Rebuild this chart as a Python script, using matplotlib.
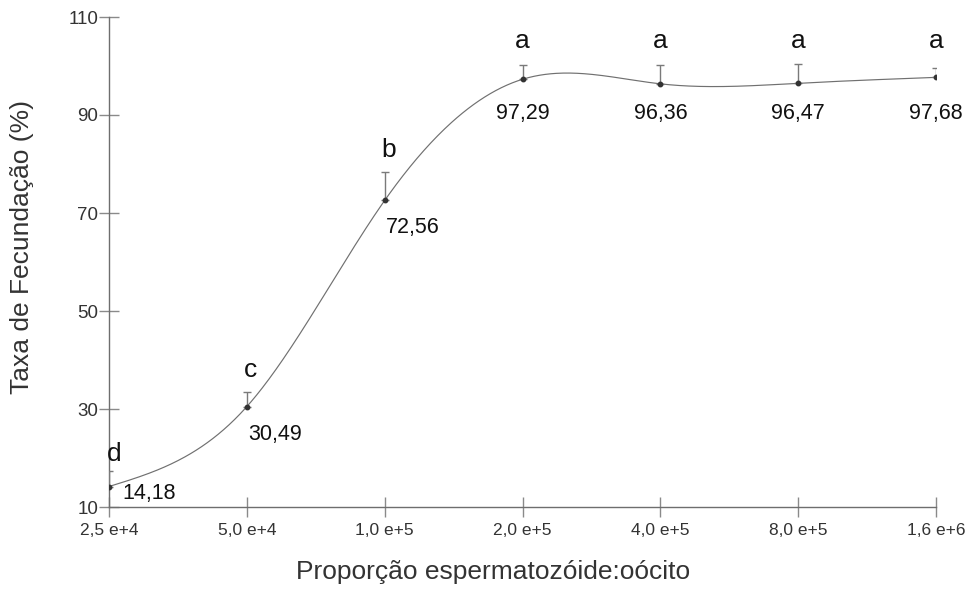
import numpy as np
import matplotlib
matplotlib.use("Agg")
import matplotlib.pyplot as plt

plt.rcParams['font.family'] = ['Liberation Sans', 'DejaVu Sans']

# Sperm:oocyte ratios tested (equally spaced on the axis)
ratio_labels = ["2,5 e+4", "5,0 e+4", "1,0 e+5", "2,0 e+5", "4,0 e+5", "8,0 e+5", "1,6 e+6"]
fert_rate = [14.18, 30.49, 72.56, 97.29, 96.36, 96.47, 97.68]
fert_err = [3.2, 3.0, 5.9, 2.9, 3.8, 3.9, 1.9]
groups = ["d", "c", "b", "a", "a", "a", "a"]
value_text = ["14,18", "30,49", "72,56", "97,29", "96,36", "96,47", "97,68"]
y_ticks = [10, 30, 50, 70, 90, 110]


def natural_cubic_spline(x, y, xs):
    """Evaluate a natural cubic spline through (x, y) at xs."""
    x = np.asarray(x, float)
    y = np.asarray(y, float)
    n = len(x)
    h = np.diff(x)
    A = np.zeros((n, n))
    b = np.zeros(n)
    A[0, 0] = A[-1, -1] = 1.0
    for i in range(1, n - 1):
        A[i, i - 1] = h[i - 1]
        A[i, i] = 2 * (h[i - 1] + h[i])
        A[i, i + 1] = h[i]
        b[i] = 3 * ((y[i + 1] - y[i]) / h[i] - (y[i] - y[i - 1]) / h[i - 1])
    c = np.linalg.solve(A, b)
    out = np.empty_like(xs, dtype=float)
    for k, xv in enumerate(xs):
        i = min(max(np.searchsorted(x, xv) - 1, 0), n - 2)
        dx = xv - x[i]
        bi = (y[i + 1] - y[i]) / h[i] - h[i] * (2 * c[i] + c[i + 1]) / 3
        di = (c[i + 1] - c[i]) / (3 * h[i])
        out[k] = y[i] + bi * dx + c[i] * dx ** 2 + di * dx ** 3
    return out


xpos = np.arange(len(fert_rate))

fig = plt.figure(figsize=(9.77, 5.90), dpi=100)
ax = fig.add_axes([109 / 977, 83 / 590, 827 / 977, 490 / 590])

xs = np.linspace(xpos[0], xpos[-1], 600)
ax.plot(xs, natural_cubic_spline(xpos, fert_rate, xs), color="#707070", lw=0.85, zorder=2)

# upper error bars only
ax.errorbar(xpos, fert_rate, yerr=[np.zeros(len(fert_err)), fert_err], fmt="none",
            ecolor="#7a7a7a", elinewidth=1.0, capsize=3, capthick=1.0, zorder=3)
ax.plot(xpos, fert_rate, "o", color="#333333", ms=3.2, zorder=4)

txt = dict(color="#111111")
for i, (v, e, g, t) in enumerate(zip(fert_rate, fert_err, groups, value_text)):
    if i == 0:
        ax.text(i + 0.04, v + e + 1.0, g, fontsize=19, ha="center", va="bottom", **txt)
        ax.text(i + 0.10, v - 1.4, t, fontsize=15.5, ha="left", va="center", **txt)
    elif i < 3:
        ax.text(i + 0.03, v + e + 2.0, g, fontsize=19, ha="center", va="bottom", **txt)
        ax.text(i + 0.01, v - 5.6, t, fontsize=15.5, ha="left", va="center", **txt)
    else:
        ax.text(i, 105.1, g, fontsize=19, ha="center", va="center", **txt)
        ax.text(i, 90.3, t, fontsize=15.5, ha="center", va="center", **txt)

ax.set_xlim(0, 6)
ax.set_ylim(10, 110)
ax.set_xticks(xpos)
ax.set_xticklabels(ratio_labels)
ax.set_yticks(y_ticks)

for s in ("top", "right"):
    ax.spines[s].set_visible(False)
for s in ("left", "bottom"):
    ax.spines[s].set_color("#6e6e6e")
    ax.spines[s].set_linewidth(1.0)

ax.tick_params(axis="both", direction="inout", length=14.4, width=1.0, color="#8a8a8a",
               labelcolor="#333333")
ax.tick_params(axis="x", pad=4, labelsize=12.5)
ax.tick_params(axis="y", pad=0.5, labelsize=13.5)

fig.text(493 / 977, 1 - 572 / 590, "Proporção espermatozóide:oócito", fontsize=19,
         color="#333333", ha="center", va="center")
fig.text(22 / 977, 1 - 247 / 590, "Taxa de Fecundação (%)", fontsize=19,
         color="#333333", ha="center", va="center", rotation=90)

fig.savefig("out.png", dpi=100)
